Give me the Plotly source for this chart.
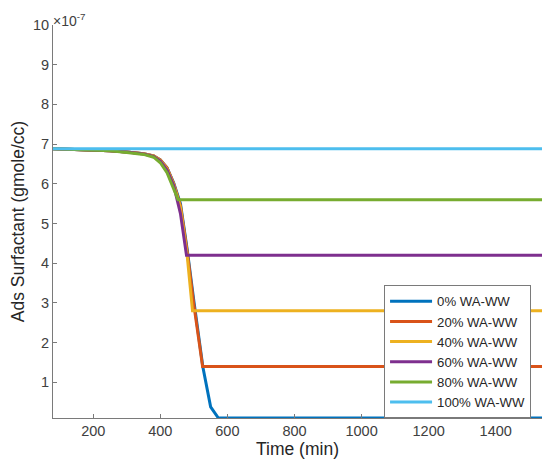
import plotly.graph_objects as go

# Time (min) and adsorbed surfactant (x1e-7 gmole/cc) for each case
t0 = [80, 150, 200, 250, 300, 350, 380, 400, 420, 440, 460, 480, 500, 527, 550, 573, 1540]
v0 = [6.88, 6.86, 6.85, 6.83, 6.80, 6.76, 6.70, 6.60, 6.40, 6.02, 5.50, 4.35, 3.05, 1.38, 0.38, 0.10, 0.10]

t20 = [80, 150, 200, 250, 300, 350, 380, 400, 420, 440, 460, 480, 500, 526, 1540]
v20 = [6.88, 6.86, 6.85, 6.83, 6.80, 6.76, 6.70, 6.60, 6.40, 6.00, 5.45, 4.30, 2.95, 1.40, 1.40]

t40 = [80, 150, 200, 250, 300, 350, 380, 400, 420, 440, 460, 480, 496, 1540]
v40 = [6.88, 6.86, 6.85, 6.83, 6.80, 6.76, 6.70, 6.59, 6.38, 5.98, 5.40, 4.20, 2.80, 2.80]

t60 = [80, 150, 200, 250, 300, 350, 380, 400, 420, 440, 460, 478, 1540]
v60 = [6.88, 6.86, 6.85, 6.83, 6.80, 6.75, 6.69, 6.57, 6.35, 5.95, 5.25, 4.20, 4.20]

t80 = [80, 150, 200, 250, 300, 350, 380, 400, 420, 440, 453, 1540]
v80 = [6.88, 6.86, 6.85, 6.83, 6.79, 6.74, 6.67, 6.53, 6.28, 5.88, 5.60, 5.60]

t100 = [80, 1540]
v100 = [6.88, 6.88]

names = ["0% WA-WW", "20% WA-WW", "40% WA-WW", "60% WA-WW", "80% WA-WW", "100% WA-WW"]
times = [t0, t20, t40, t60, t80, t100]
vals = [v0, v20, v40, v60, v80, v100]
colors = ["#0072BD", "#D95319", "#EDB120", "#7E2F8E", "#77AC30", "#4DBEEE"]

x_ticks = [200, 400, 600, 800, 1000, 1200, 1400]
y_ticks = [1, 2, 3, 4, 5, 6, 7, 8, 9, 10]

fig = go.Figure()
for t, v, n, c in zip(times, vals, names, colors):
    fig.add_trace(go.Scatter(x=t, y=v, mode="lines", name=n,
                             line=dict(color=c, width=3)))

axis_common = dict(showgrid=False, zeroline=False, showline=True,
                   linecolor="#7a7a7a", linewidth=1, ticks="inside",
                   ticklen=4, tickcolor="#7a7a7a", mirror=False,
                   tickfont=dict(family="Liberation Sans, Arial", size=14.5, color="#404040"))

fig.update_layout(
    width=534, height=452,
    margin=dict(l=45, r=0, t=17, b=42, autoexpand=False),
    plot_bgcolor="white", paper_bgcolor="white",
    font=dict(family="Liberation Sans, Arial", color="#262626"),
    xaxis=dict(range=[80, 1538], tickvals=x_ticks, automargin=False,
               title=dict(text="Time (min)", font=dict(size=17.5, color="#262626"), standoff=4),
               **axis_common),
    yaxis=dict(range=[0.1, 10], tickvals=y_ticks, ticktext=[str(v) for v in y_ticks],
               automargin=False,
               title=dict(text="Ads Surfactant (gmole/cc)", font=dict(size=17.5, color="#262626"), standoff=4),
               **axis_common),
    legend=dict(x=0.677, y=0.338, xanchor="left", yanchor="top",
                bgcolor="white", bordercolor="#7a7a7a", borderwidth=1,
                itemwidth=42,
                font=dict(size=13.2, color="#262626"), tracegroupgap=0),
    showlegend=True,
)

fig.add_annotation(x=0, y=1, xref="paper", yref="paper", xanchor="left", yanchor="bottom",
                   text="×10<sup>-7</sup>", showarrow=False,
                   font=dict(size=14, color="#404040"), xshift=-2, yshift=-6)

fig.write_html("out.html")
